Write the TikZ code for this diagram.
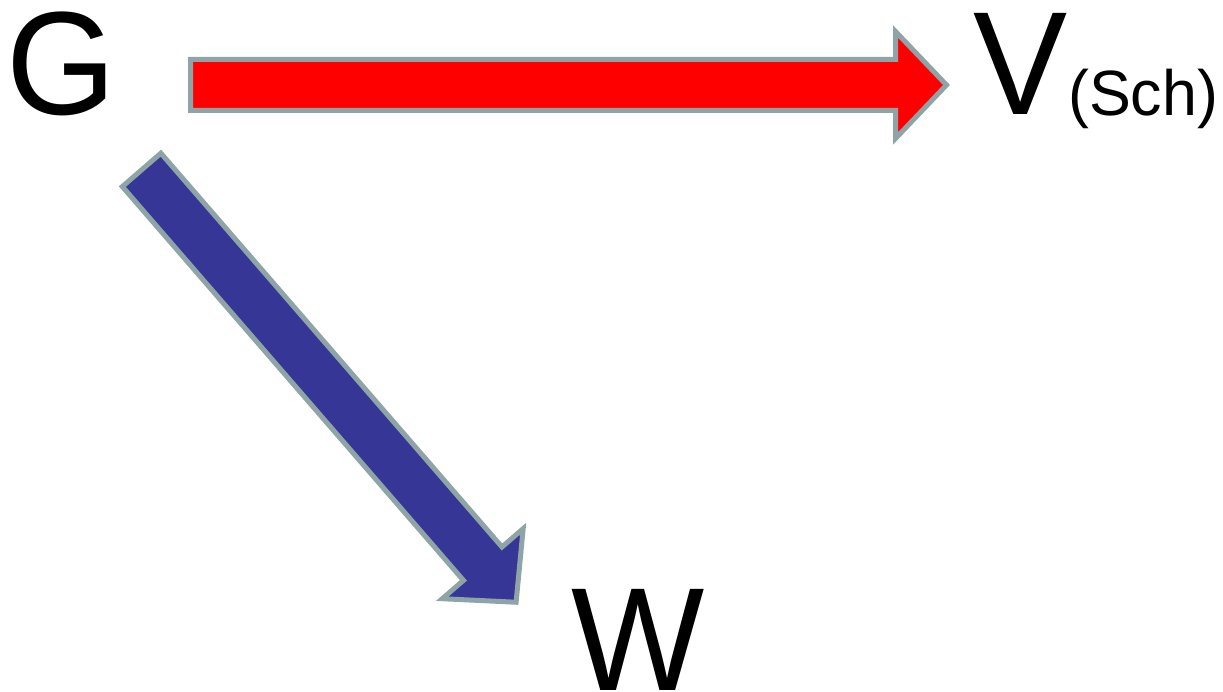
\documentclass[tikz,border=0pt]{standalone}
\usepackage{fontspec}
\setmainfont{Liberation Sans}
\definecolor{arrowred}{HTML}{FF0000}
\definecolor{arrowblue}{HTML}{363696}
\definecolor{rimgray}{HTML}{8FA4A6}
\tikzset{
  fatred/.style={fill=arrowred, draw=rimgray, line width=5pt, line join=miter, miter limit=10},
  fatblue/.style={fill=arrowblue, draw=rimgray, line width=5pt, line join=miter, miter limit=10},
  bigletter/.style={inner sep=0pt, anchor=base west, font=\fontsize{147}{150}\selectfont, xscale=0.96, transform shape},
  smalltext/.style={inner sep=0pt, anchor=base west, font=\fontsize{64}{66}\selectfont, xscale=0.98, transform shape}
}
\newcommand{\fatarrowshape}[1]{(0,25.5) -- ({#1-51},25.5) -- ({#1-51},53.5) -- (#1,0) -- ({#1-51},-53.5) -- ({#1-51},-25.5) -- (0,-25.5) -- cycle}
\begin{document}
\begin{tikzpicture}[x=1pt,y=1pt]
\useasboundingbox (0,0) rectangle (1223,691);
\node[bigletter] (G) at (6.2,576) {G};
\node[bigletter] (V) at (973,576) {V};
\node[smalltext] (Sch) at (1068,575.5) {(Sch)};
\node[bigletter] (W) at (571,1) {W};
\begin{scope}[shift={(190.5,606)}]
  \draw[fatred] \fatarrowshape{756};
\end{scope}
\begin{scope}[shift={(141.6,521.1)}, rotate=-49.1]
  \draw[fatblue] \fatarrowshape{572};
\end{scope}
\end{tikzpicture}
\end{document}
